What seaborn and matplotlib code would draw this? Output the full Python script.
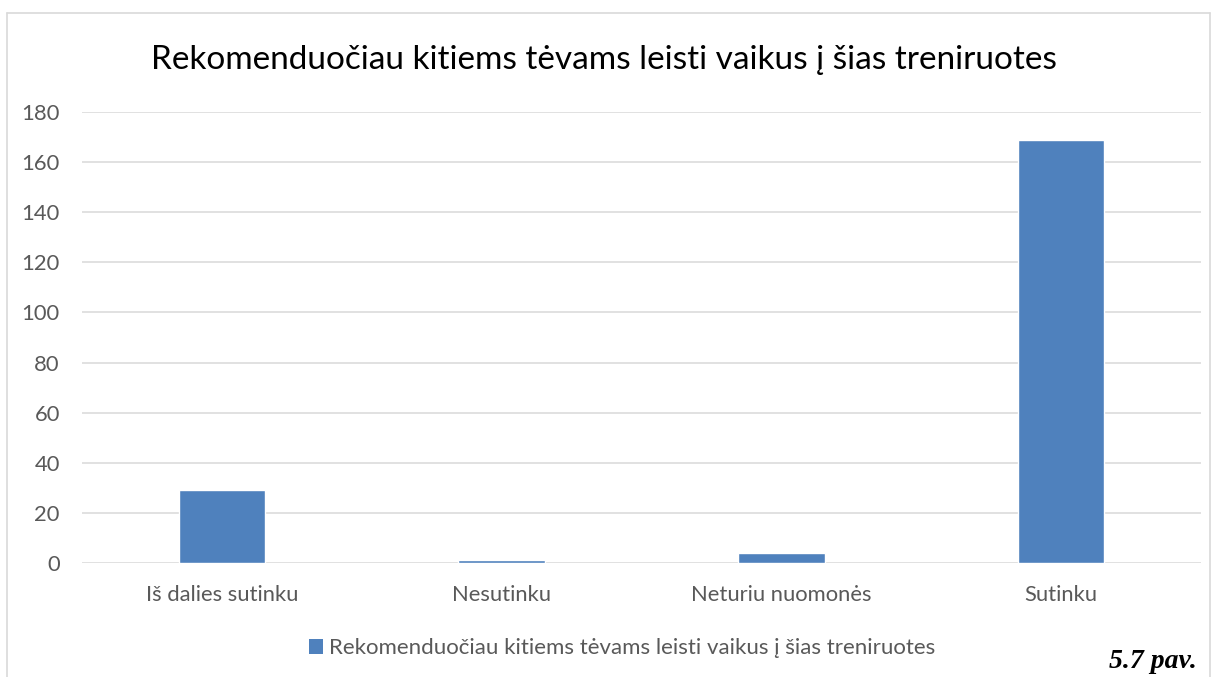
import matplotlib
matplotlib.use("Agg")
import matplotlib.pyplot as plt
from matplotlib.patches import Patch
from matplotlib.lines import Line2D
import seaborn as sns
import pandas as pd

categories = ["Iš dalies sutinku", "Nesutinku", "Neturiu nuomonės", "Sutinku"]
values = [29, 1, 4, 169]
series_name = "Rekomenduočiau kitiems tėvams leisti vaikus į šias treniruotes"
title = "Rekomenduočiau kitiems tėvams leisti vaikus į šias treniruotes"
yticks = [0, 20, 40, 60, 80, 100, 120, 140, 160, 180]
caption = "5.7 pav."

sns.set_theme(style="white")
plt.rcParams['font.family'] = ['Lato', 'DejaVu Sans']

W, H = 1219, 677
fig = plt.figure(figsize=(W / 100, H / 100), dpi=100)
ax = fig.add_axes([82 / W, 114 / H, (1201 - 82) / W, (563 - 112) / H])

df = pd.DataFrame({"cat": categories, "val": values})
sns.barplot(data=df, x="cat", y="val", color="#4f81bd", width=0.31,
            saturation=1, ax=ax, zorder=3)

ax.set_ylim(0, 180)
ax.set_xlim(-0.5, 3.5)
ax.set_yticks(yticks)
ax.yaxis.grid(True, color="#d9d9d9", linewidth=1.1, zorder=0)
ax.set_axisbelow(True)
for s in ax.spines.values():
    s.set_visible(False)
ax.set_xlabel("")
ax.set_ylabel("")
ax.tick_params(axis="both", length=0, labelsize=15.8, colors="#595959")
ax.tick_params(axis="y", pad=16)
ax.tick_params(axis="x", pad=16)

fig.text(604 / W, 1 - 60 / H, title, ha="center", va="center",
         fontsize=24, color="#000000")

handle = Patch(facecolor="#4f81bd", edgecolor="none", label=series_name)
fig.legend(handles=[handle], loc="center", bbox_to_anchor=(622 / W, 1 - 648 / H),
           frameon=False, fontsize=16, labelcolor="#595959",
           handlelength=0.65, handleheight=0.65, handletextpad=0.25)

fig.text(1197 / W, 1 - 662 / H, caption, ha="right", va="center",
         fontsize=20, fontweight="bold", fontstyle="italic",
         family=["Liberation Serif", "DejaVu Serif"], color="#000000")

# chart frame (top, left, right edges)
frame_col = "#d9d9d9"
fig.add_artist(Line2D([7 / W, 1210 / W], [1 - 13 / H, 1 - 13 / H], color=frame_col, lw=1.2))
fig.add_artist(Line2D([7 / W, 7 / W], [0, 1 - 13 / H], color=frame_col, lw=1.2))
fig.add_artist(Line2D([1210 / W, 1210 / W], [0, 1 - 13 / H], color=frame_col, lw=1.2))

fig.savefig("out.png", dpi=100)
